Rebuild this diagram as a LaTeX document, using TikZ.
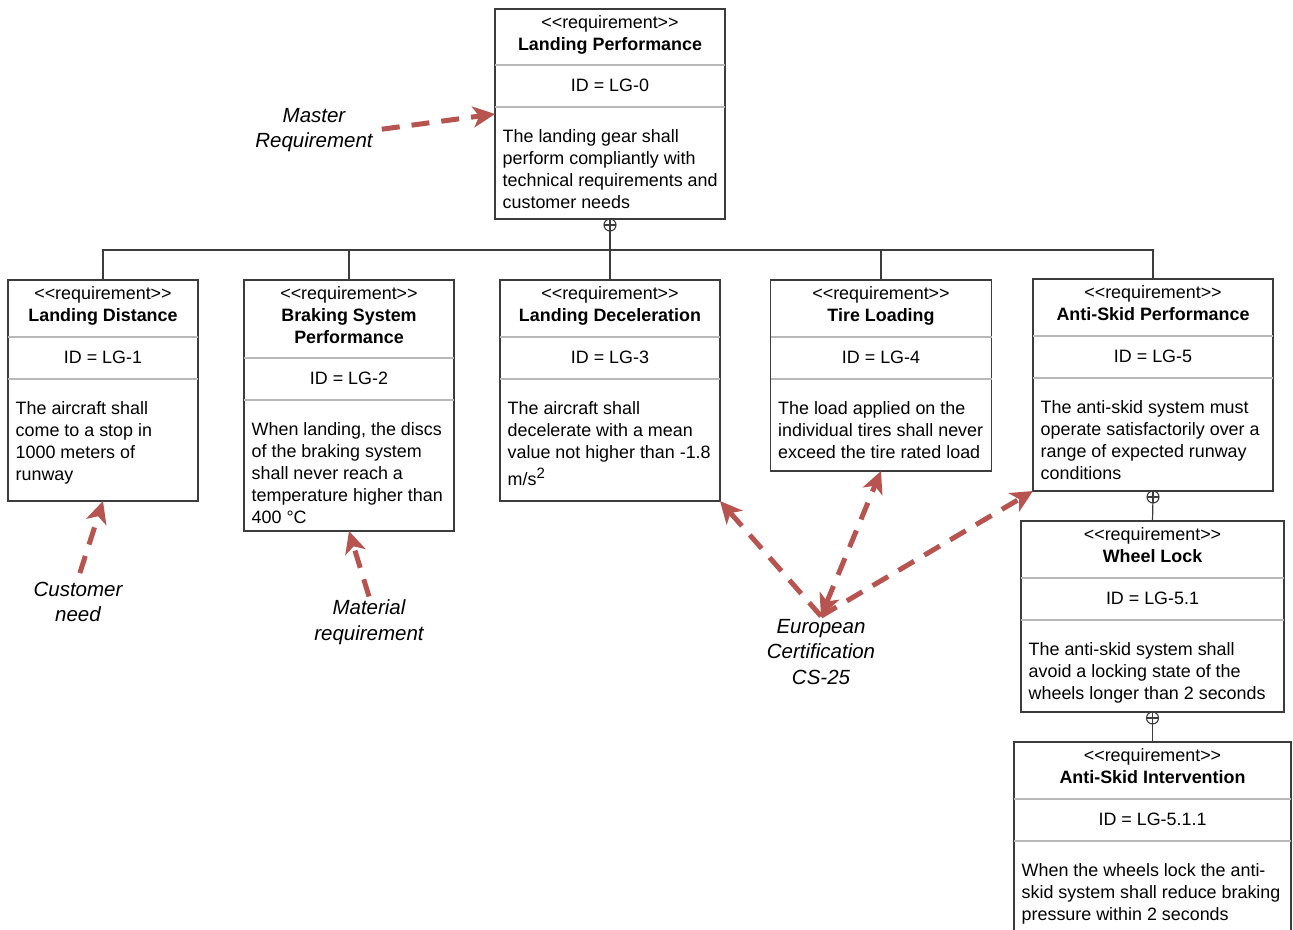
\documentclass[tikz,border=0pt]{standalone}
\usepackage{fontspec}
\setmainfont{Liberation Sans}
\usetikzlibrary{arrows.meta, positioning, calc}

\definecolor{traceline}{HTML}{B85450}
\definecolor{frameline}{HTML}{3C3C3C}
\definecolor{sepline}{HTML}{B8B8B8}

\newcommand{\stereo}{<\kern0pt<requirement>\kern0pt>}
% requirement block: name, left, top, width, height, header height, title, id, text
\newcommand{\reqbox}[9]{%
  \node[reqframe, anchor=north west, minimum width=#4pt, minimum height=#5pt] (#1) at (#2,#3) {};
  \coordinate (#1-a) at ($(#1.north west)+(0,#6)$);
  \coordinate (#1-b) at ($(#1-a)+(0,42)$);
  \draw[reqsep] (#1-a) -- (#1-a -| #1.east);
  \draw[reqsep] (#1-b) -- (#1-b -| #1.east);
  \node[reqtext, anchor=north] (#1-head) at ($(#1.north)+(0,3.6)$) {\strut\stereo\\#7};
  \node[reqtext, anchor=base] (#1-id) at ($(#1-a -| #1.north)+(0,26)$) {ID = #8};
  \node[reqtext, align=left, anchor=north west] (#1-txt) at ($(#1-b)+(7.5,19.6)$) {\strut#9};
}

\begin{document}
\begin{tikzpicture}[
    x=1pt, y=-1pt,
    reqframe/.style={draw=frameline, line width=1.2pt, fill=white, outer sep=0pt, inner sep=0pt},
    reqsep/.style={draw=sepline, line width=1.3pt},
    reqtext/.style={align=center, inner sep=0pt, font=\fontsize{17.9pt}{22pt}\selectfont},
    note/.style={align=center, inner sep=3pt, font=\fontsize{20.5pt}{25.5pt}\selectfont\itshape},
    link/.style={draw=frameline, line width=1.2pt},
    owner/.style={circle, draw=frameline, line width=1.1pt, minimum size=12pt, inner sep=0pt, outer sep=0pt,
        path picture={\draw[frameline, line width=1.1pt]
            (path picture bounding box.north) -- (path picture bounding box.south)
            (path picture bounding box.west) -- (path picture bounding box.east);}},
    trace/.style={draw=traceline, line width=5pt, dash pattern=on 18pt off 12pt,
        -{Stealth[length=22pt, width=21pt, inset=6pt]}},
]
\useasboundingbox (0,0) rectangle (1293,929);

% master requirement
\reqbox{lp}{495}{9}{230}{210}{56}{\textbf{Landing Performance}}{LG-0}%
  {The landing gear shall\\perform compliantly with\\technical requirements and\\customer needs}

% first level
\reqbox{ld}{8}{280}{190}{221}{57}{\textbf{Landing Distance}}{LG-1}%
  {The aircraft shall\\come to a stop in\\1000 meters of\\runway}
\reqbox{bs}{244}{280}{210}{251}{78}{\textbf{Braking System}\\\textbf{Performance}}{LG-2}%
  {When landing, the discs\\of the braking system\\shall never reach a\\temperature higher than\\400 °C}
\reqbox{ldec}{500}{280}{220}{221}{57}{\textbf{Landing Deceleration}}{LG-3}%
  {The aircraft shall\\decelerate with a mean\\value not higher than -1.8\\[5pt]m/s\raisebox{7pt}{\fontsize{15pt}{15pt}\selectfont 2}}
\reqbox{tl}{770.5}{280}{221}{191}{57}{\textbf{Tire Loading}}{LG-4}%
  {The load applied on the\\individual tires shall never\\exceed the tire rated load}
\reqbox{asp}{1033}{279}{240}{212}{57}{\textbf{Anti-Skid Performance}}{LG-5}%
  {The anti-skid system must\\operate satisfactorily over a\\range of expected runway\\conditions}

% anti-skid chain
\reqbox{wl}{1021}{521}{263}{191}{57}{\textbf{Wheel Lock}}{LG-5.1}%
  {The anti-skid system shall\\avoid a locking state of the\\wheels longer than 2 seconds}
\reqbox{asi}{1014}{742}{277}{200}{57}{\textbf{Anti-Skid Intervention}}{LG-5.1.1}%
  {When the wheels lock the anti-\\skid system shall reduce braking\\pressure within 2 seconds}

% containment
\coordinate (hub) at (610,250);
\node[owner, anchor=north] (lp-own) at (lp.south) {};
\draw[link] (lp-own) -- (hub);
\foreach \n in {ld,bs,ldec,tl,asp}
  \draw[link] (\n.north) |- (hub);
\node[owner, anchor=north] (asp-own) at (asp.south) {};
\draw[link] (asp-own) -- (wl.north);
\node[owner, anchor=north] (wl-own) at (wl.south) {};
\draw[link] (wl-own) -- (asi.north);

% notes
\node[note] (master) at (314,130) {Master\\Requirement};
\node[note] (cust) at (78,602) {Customer\\need};
\node[note] (mat) at (369,622) {Material\\requirement};
\node[note] (euro) at (821,652) {European\\Certification\\CS-25};

\draw[trace, shorten <=6pt] (master.east) -- (lp.west);
\draw[trace, shorten <=6pt] (cust.north) -- (ld.south);
\draw[trace] (mat.north) -- (bs.south);
\draw[trace] (euro.north) -- (ldec.south east);
\draw[trace, {Stealth[length=22pt, width=21pt, inset=6pt]}-{Stealth[length=22pt, width=21pt, inset=6pt]}] (euro.north) -- (tl.south);
\draw[trace] (euro.north) -- (asp.south west);
\end{tikzpicture}
\end{document}
